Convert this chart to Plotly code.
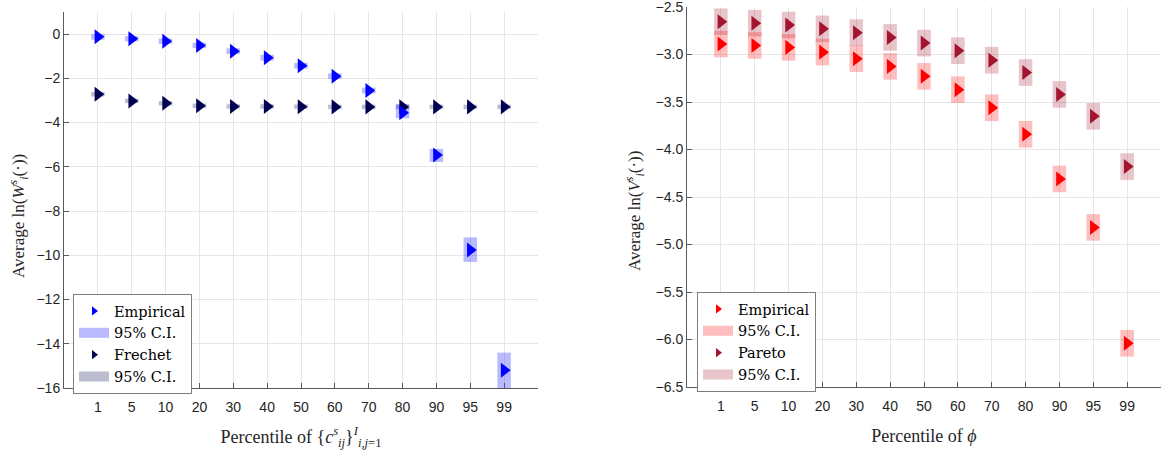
import plotly.graph_objects as go

# ---------------- data ----------------
pct_labels = ["1", "5", "10", "20", "30", "40", "50", "60", "70", "80", "90", "95", "99"]

# Left panel: Average ln(W_i^s)
emp_W = [-0.12, -0.21, -0.32, -0.51, -0.77, -1.07, -1.43, -1.90, -2.55, -3.55, -5.47, -9.76, -15.20]
emp_W_lo = [-0.25, -0.33, -0.44, -0.63, -0.90, -1.20, -1.56, -2.03, -2.68, -3.80, -5.78, -10.30, -16.30]
emp_W_hi = [0.00, -0.09, -0.20, -0.39, -0.64, -0.94, -1.30, -1.77, -2.42, -3.17, -5.19, -9.19, -14.40]
fre_W = [-2.72, -3.02, -3.13, -3.24, -3.27, -3.27, -3.28, -3.29, -3.29, -3.29, -3.29, -3.29, -3.29]
fre_W_lo = [-2.82, -3.12, -3.23, -3.34, -3.37, -3.37, -3.38, -3.39, -3.39, -3.39, -3.39, -3.39, -3.39]
fre_W_hi = [-2.62, -2.92, -3.03, -3.14, -3.17, -3.17, -3.18, -3.19, -3.19, -3.19, -3.19, -3.19, -3.19]

# Right panel: Average ln(V_i^s)
emp_V = [-2.89, -2.905, -2.925, -2.975, -3.045, -3.125, -3.23, -3.37, -3.56, -3.84, -4.31, -4.82, -6.04]
emp_V_lo = [-3.03, -3.045, -3.065, -3.115, -3.185, -3.265, -3.37, -3.51, -3.70, -3.98, -4.45, -4.96, -6.18]
emp_V_hi = [-2.75, -2.765, -2.785, -2.835, -2.905, -2.985, -3.09, -3.23, -3.42, -3.70, -4.17, -4.68, -5.90]
par_V = [-2.655, -2.67, -2.69, -2.73, -2.77, -2.82, -2.88, -2.96, -3.06, -3.19, -3.42, -3.65, -4.18]
par_V_lo = [-2.795, -2.81, -2.83, -2.87, -2.91, -2.96, -3.02, -3.10, -3.20, -3.33, -3.56, -3.79, -4.32]
par_V_hi = [-2.515, -2.53, -2.55, -2.59, -2.63, -2.68, -2.74, -2.82, -2.92, -3.05, -3.28, -3.51, -4.04]

left_yticks = [0, -2, -4, -6, -8, -10, -12, -14, -16]
right_yticks = [-2.5, -3.0, -3.5, -4.0, -4.5, -5.0, -5.5, -6.0, -6.5]

# ---------------- styles ----------------
BLUE = "#0000FF"
NAVY = "#000050"
RED = "#FF0000"
DRED = "#A2142F"
BLUE_CI = "rgba(0,0,255,0.27)"
NAVY_CI = "rgba(0,0,80,0.26)"
RED_CI = "rgba(255,0,0,0.25)"
DRED_CI = "rgba(162,20,47,0.25)"
BLUE_CI_SOLID = "#BABAFF"
NAVY_CI_SOLID = "#BDBDD1"
RED_CI_SOLID = "#FFBFBF"
DRED_CI_SOLID = "#E8C4CB"

SANS = "Liberation Sans"
SERIF = "Liberation Serif"
LEGSERIF = "DejaVu Serif"
TXT = "#262626"
GRID = "#E6E6E6"
AX = "#5a5a5a"

idx = list(range(len(pct_labels)))

fig = go.Figure()


def add_ci(xa, ya, lo, hi, color):
    fig.add_trace(go.Bar(
        x=idx, y=[h - l for l, h in zip(lo, hi)], base=lo, width=0.4,
        marker=dict(color=color, line=dict(width=0)),
        xaxis=xa, yaxis=ya, showlegend=False, hoverinfo="skip"))


def add_pts(xa, ya, vals, color):
    fig.add_trace(go.Scatter(
        x=idx, y=vals, mode="markers",
        marker=dict(symbol="triangle-right", size=13, color=color, line=dict(width=0)),
        xaxis=xa, yaxis=ya, showlegend=False))


def add_leg(legend, name, color, kind):
    if kind == "m":
        fig.add_trace(go.Scatter(x=[None], y=[None], mode="markers", name=name,
                                 marker=dict(symbol="triangle-right", size=8, color=color),
                                 legend=legend, xaxis="x", yaxis="y"))
    else:
        fig.add_trace(go.Scatter(x=[None], y=[None], mode="lines", name=name,
                                 line=dict(width=15, color=color),
                                 legend=legend, xaxis="x", yaxis="y"))


# left panel
add_ci("x", "y", fre_W_lo, fre_W_hi, NAVY_CI)
add_ci("x", "y", emp_W_lo, emp_W_hi, BLUE_CI)
add_pts("x", "y", fre_W, NAVY)
add_pts("x", "y", emp_W, BLUE)
# right panel
add_ci("x2", "y2", par_V_lo, par_V_hi, DRED_CI)
add_ci("x2", "y2", emp_V_lo, emp_V_hi, RED_CI)
add_pts("x2", "y2", par_V, DRED)
add_pts("x2", "y2", emp_V, RED)

# legends
add_leg("legend", "Empirical", BLUE, "m")
add_leg("legend", "95% C.I.", BLUE_CI_SOLID, "l")
add_leg("legend", "Frechet", NAVY, "m")
add_leg("legend", "95% C.I.", NAVY_CI_SOLID, "l")
add_leg("legend2", "Empirical", RED, "m")
add_leg("legend2", "95% C.I.", RED_CI_SOLID, "l")
add_leg("legend2", "Pareto", DRED, "m")
add_leg("legend2", "95% C.I.", DRED_CI_SOLID, "l")

W, H = 1161, 455

xcommon = dict(range=[-1, 13], tickmode="array", tickvals=idx, ticktext=pct_labels,
               showgrid=True, gridcolor=GRID, gridwidth=1, zeroline=False,
               showline=True, linecolor=AX, linewidth=1, ticks="inside", ticklen=5,
               tickcolor=AX, tickfont=dict(family=SANS, size=14, color=TXT),
               ticklabelstandoff=6, automargin=False)
ycommon = dict(showgrid=True, gridcolor=GRID, gridwidth=1, zeroline=False,
               showline=True, linecolor=AX, linewidth=1, ticks="inside", ticklen=5,
               tickcolor=AX, tickfont=dict(family=SANS, size=14, color=TXT),
               ticklabeloverflow="allow", automargin=False)

legcommon = dict(bgcolor="white", bordercolor="#7f7f7f", borderwidth=1,
                 font=dict(family=LEGSERIF, size=14.5, color="#000000"),
                 xanchor="left", yanchor="top", tracegroupgap=0,
                 itemwidth=30)

title_font = dict(family=SERIF, size=17, color=TXT)

fig.update_layout(
    width=W, height=H,
    margin=dict(l=0, r=0, t=0, b=0),
    paper_bgcolor="white", plot_bgcolor="white",
    barmode="overlay",
    xaxis=dict(domain=[64 / W, 538 / W], anchor="y",
               title=dict(text="Percentile of {<i>c</i><sup><i>s</i></sup><sub><i>ij</i></sub>}<sup><i>I</i></sup><sub><i>i,j</i>=1</sub>",
                          font=dict(family=SERIF, size=18, color=TXT), standoff=16),
               **xcommon),
    yaxis=dict(domain=[1 - 388 / H, 1 - 12 / H], anchor="x", range=[-16, 1],
               tickvals=left_yticks, **ycommon),
    xaxis2=dict(domain=[687 / W, 1.0], anchor="y2",
                title=dict(text="Percentile of <i>ϕ</i>",
                           font=dict(family=SERIF, size=18, color=TXT), standoff=16),
                **xcommon),
    yaxis2=dict(domain=[1 - 387 / H, 1 - 7 / H], anchor="x2", range=[-6.5, -2.5],
                tickvals=right_yticks, tickformat=".1f", **ycommon),
    legend=dict(x=73 / W, y=1 - 294 / H, **legcommon),
    legend2=dict(x=697 / W, y=1 - 292 / H, **legcommon),
    annotations=[
        dict(text="Average ln(<i>W</i><sup><i>s</i></sup><sub><i>i</i></sub>(·))",
             xref="paper", yref="paper", x=18 / W, y=1 - 216 / H, textangle=-90,
             xanchor="center", yanchor="middle", showarrow=False, font=title_font),
        dict(text="Average ln(<i>V</i><sup><i>s</i></sup><sub><i>i</i></sub>(·))",
             xref="paper", yref="paper", x=634 / W, y=1 - 211 / H, textangle=-90,
             xanchor="center", yanchor="middle", showarrow=False, font=title_font),
    ],
)

fig.write_html("out.html")
